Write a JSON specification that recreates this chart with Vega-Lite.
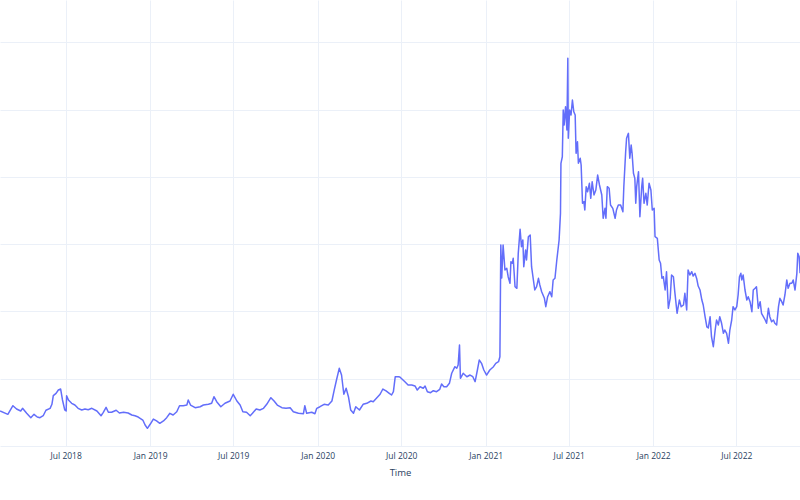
{
  "$schema": "https://vega.github.io/schema/vega-lite/v6.json",
  "width": 800,
  "height": 446,
  "autosize": {"type": "none"},
  "padding": {"left": 0, "top": 0, "right": 0, "bottom": 54},
  "background": "white",
  "view": {"stroke": null},
  "config": {"font": "Open Sans"},
  "data": {"values": [
    {"date":"2018-02-08","value":5.20},{"date":"2018-02-25","value":4.71},{"date":"2018-03-08","value":5.99},{"date":"2018-03-16","value":5.50},{"date":"2018-03-25","value":5.20},{"date":"2018-03-29","value":5.60},{"date":"2018-04-07","value":4.86},{"date":"2018-04-16","value":4.21},{"date":"2018-04-23","value":4.71},{"date":"2018-04-30","value":4.31},
    {"date":"2018-05-06","value":4.21},{"date":"2018-05-13","value":4.50},{"date":"2018-05-19","value":5.31},{"date":"2018-05-28","value":5.60},{"date":"2018-06-01","value":6.20},{"date":"2018-06-04","value":7.48},{"date":"2018-06-10","value":7.83},{"date":"2018-06-15","value":8.32},{"date":"2018-06-20","value":8.47},{"date":"2018-06-24","value":6.84},
    {"date":"2018-06-29","value":5.35},{"date":"2018-07-02","value":5.20},{"date":"2018-07-03","value":7.48},{"date":"2018-07-07","value":6.84},{"date":"2018-07-14","value":6.35},{"date":"2018-07-21","value":6.09},{"date":"2018-07-28","value":5.60},{"date":"2018-08-05","value":5.35},{"date":"2018-08-12","value":5.50},{"date":"2018-08-19","value":5.40},
    {"date":"2018-08-27","value":5.60},{"date":"2018-09-07","value":5.20},{"date":"2018-09-16","value":4.50},{"date":"2018-09-21","value":5.01},{"date":"2018-09-27","value":5.75},{"date":"2018-10-02","value":5.01},{"date":"2018-10-09","value":5.01},{"date":"2018-10-19","value":5.31},{"date":"2018-10-26","value":4.91},{"date":"2018-11-04","value":5.01},
    {"date":"2018-11-14","value":4.91},{"date":"2018-11-22","value":4.61},{"date":"2018-11-29","value":4.50},{"date":"2018-12-06","value":4.31},{"date":"2018-12-16","value":3.86},{"date":"2018-12-21","value":3.12},{"date":"2018-12-26","value":2.63},{"date":"2019-01-01","value":3.23},{"date":"2019-01-08","value":4.01},{"date":"2019-01-15","value":3.72},
    {"date":"2019-01-22","value":3.37},{"date":"2019-01-30","value":3.72},{"date":"2019-02-06","value":4.21},{"date":"2019-02-13","value":4.86},{"date":"2019-02-20","value":4.61},{"date":"2019-02-28","value":5.10},{"date":"2019-03-06","value":5.99},{"date":"2019-03-14","value":5.99},{"date":"2019-03-22","value":6.09},{"date":"2019-03-25","value":6.84},
    {"date":"2019-03-30","value":6.09},{"date":"2019-04-09","value":5.69},{"date":"2019-04-20","value":5.84},{"date":"2019-04-27","value":6.09},{"date":"2019-05-08","value":6.20},{"date":"2019-05-15","value":6.35},{"date":"2019-05-20","value":7.33},{"date":"2019-05-26","value":6.59},{"date":"2019-06-04","value":5.84},{"date":"2019-06-13","value":6.35},
    {"date":"2019-06-24","value":6.69},{"date":"2019-07-01","value":7.69},{"date":"2019-07-09","value":6.69},{"date":"2019-07-16","value":6.09},{"date":"2019-07-22","value":5.10},{"date":"2019-07-30","value":5.01},{"date":"2019-08-07","value":4.50},{"date":"2019-08-12","value":4.86},{"date":"2019-08-20","value":5.50},{"date":"2019-08-28","value":5.35},
    {"date":"2019-09-05","value":5.60},{"date":"2019-09-12","value":6.20},{"date":"2019-09-21","value":7.18},{"date":"2019-09-28","value":6.69},{"date":"2019-10-05","value":6.09},{"date":"2019-10-15","value":5.69},{"date":"2019-10-24","value":5.60},{"date":"2019-11-02","value":5.69},{"date":"2019-11-09","value":5.10},{"date":"2019-11-20","value":4.86},
    {"date":"2019-12-01","value":4.80},{"date":"2019-12-04","value":5.99},{"date":"2019-12-08","value":4.86},{"date":"2019-12-19","value":5.01},{"date":"2019-12-26","value":4.80},{"date":"2019-12-30","value":5.60},{"date":"2020-01-06","value":5.84},{"date":"2020-01-15","value":6.20},{"date":"2020-01-24","value":6.09},{"date":"2020-02-01","value":6.69},
    {"date":"2020-02-06","value":8.32},{"date":"2020-02-11","value":9.81},{"date":"2020-02-17","value":11.55},{"date":"2020-02-22","value":10.55},{"date":"2020-02-27","value":7.69},{"date":"2020-03-03","value":8.58},{"date":"2020-03-08","value":7.33},{"date":"2020-03-13","value":5.35},{"date":"2020-03-19","value":4.86},{"date":"2020-03-24","value":5.84},
    {"date":"2020-04-01","value":5.35},{"date":"2020-04-09","value":6.20},{"date":"2020-04-17","value":6.35},{"date":"2020-04-26","value":6.69},{"date":"2020-05-01","value":6.59},{"date":"2020-05-09","value":7.18},{"date":"2020-05-16","value":7.69},{"date":"2020-05-22","value":8.47},{"date":"2020-05-29","value":8.18},{"date":"2020-06-05","value":7.83},
    {"date":"2020-06-10","value":7.58},{"date":"2020-06-14","value":8.07},{"date":"2020-06-18","value":10.30},{"date":"2020-06-25","value":10.30},{"date":"2020-06-28","value":10.26},{"date":"2020-07-09","value":9.56},{"date":"2020-07-16","value":9.07},{"date":"2020-07-24","value":9.07},{"date":"2020-07-31","value":8.92},{"date":"2020-08-05","value":8.32},
    {"date":"2020-08-11","value":8.81},{"date":"2020-08-18","value":8.58},{"date":"2020-08-22","value":8.92},{"date":"2020-08-27","value":8.07},{"date":"2020-09-03","value":7.92},{"date":"2020-09-09","value":8.22},{"date":"2020-09-16","value":8.07},{"date":"2020-09-23","value":8.43},{"date":"2020-09-27","value":9.22},{"date":"2020-10-02","value":8.81},
    {"date":"2020-10-08","value":8.81},{"date":"2020-10-14","value":9.32},{"date":"2020-10-19","value":10.81},{"date":"2020-10-26","value":11.79},{"date":"2020-10-30","value":11.55},{"date":"2020-11-02","value":12.04},{"date":"2020-11-05","value":15.01},{"date":"2020-11-07","value":10.06},{"date":"2020-11-13","value":10.81},{"date":"2020-11-21","value":10.30},
    {"date":"2020-11-28","value":10.55},{"date":"2020-12-04","value":10.30},{"date":"2020-12-09","value":9.56},{"date":"2020-12-14","value":11.30},{"date":"2020-12-18","value":12.78},{"date":"2020-12-23","value":12.29},{"date":"2020-12-28","value":11.30},{"date":"2021-01-03","value":10.55},{"date":"2021-01-10","value":11.30},{"date":"2021-01-18","value":11.79},
    {"date":"2021-01-23","value":12.29},{"date":"2021-01-29","value":12.53},{"date":"2021-02-01","value":13.27},{"date":"2021-02-03","value":29.88},{"date":"2021-02-05","value":24.97},{"date":"2021-02-08","value":29.88},{"date":"2021-02-12","value":26.16},{"date":"2021-02-16","value":26.42},{"date":"2021-02-19","value":25.17},{"date":"2021-02-23","value":24.19},
    {"date":"2021-02-25","value":27.40},{"date":"2021-02-28","value":27.16},{"date":"2021-03-02","value":27.90},{"date":"2021-03-06","value":23.68},{"date":"2021-03-10","value":23.44},{"date":"2021-03-13","value":28.64},{"date":"2021-03-17","value":32.21},{"date":"2021-03-20","value":29.63},{"date":"2021-03-23","value":30.62},{"date":"2021-03-25","value":26.65},
    {"date":"2021-03-29","value":29.14},{"date":"2021-03-31","value":27.65},{"date":"2021-04-04","value":31.11},{"date":"2021-04-08","value":31.37},{"date":"2021-04-11","value":26.65},{"date":"2021-04-15","value":24.68},{"date":"2021-04-18","value":23.19},{"date":"2021-04-22","value":23.68},{"date":"2021-04-26","value":24.93},{"date":"2021-04-29","value":23.93},
    {"date":"2021-05-03","value":22.94},{"date":"2021-05-09","value":21.96},{"date":"2021-05-12","value":20.71},{"date":"2021-05-16","value":22.19},{"date":"2021-05-21","value":22.94},{"date":"2021-05-25","value":22.19},{"date":"2021-05-28","value":24.68},{"date":"2021-06-01","value":24.93},{"date":"2021-06-05","value":27.65},{"date":"2021-06-10","value":30.62},
    {"date":"2021-06-13","value":34.59},{"date":"2021-06-14","value":42.02},{"date":"2021-06-17","value":43.00},{"date":"2021-06-19","value":49.95},{"date":"2021-06-21","value":47.72},{"date":"2021-06-24","value":50.44},{"date":"2021-06-27","value":46.97},{"date":"2021-06-29","value":57.63},{"date":"2021-06-30","value":45.74},{"date":"2021-07-03","value":49.95},
    {"date":"2021-07-06","value":49.20},{"date":"2021-07-09","value":51.43},{"date":"2021-07-12","value":49.69},{"date":"2021-07-15","value":49.20},{"date":"2021-07-17","value":43.51},{"date":"2021-07-20","value":45.23},{"date":"2021-07-22","value":42.02},{"date":"2021-07-26","value":42.77},{"date":"2021-07-28","value":41.77},{"date":"2021-07-31","value":36.08},
    {"date":"2021-08-03","value":36.32},{"date":"2021-08-05","value":35.08},{"date":"2021-08-08","value":38.55},{"date":"2021-08-11","value":37.80},{"date":"2021-08-15","value":39.05},{"date":"2021-08-18","value":36.82},{"date":"2021-08-21","value":39.29},{"date":"2021-08-25","value":37.31},{"date":"2021-08-29","value":38.05},{"date":"2021-09-02","value":40.28},
    {"date":"2021-09-06","value":38.80},{"date":"2021-09-11","value":37.31},{"date":"2021-09-14","value":33.85},{"date":"2021-09-18","value":35.33},{"date":"2021-09-20","value":33.85},{"date":"2021-09-23","value":38.55},{"date":"2021-09-27","value":38.31},{"date":"2021-09-30","value":35.82},{"date":"2021-10-05","value":35.33},{"date":"2021-10-10","value":33.85},
    {"date":"2021-10-13","value":35.08},{"date":"2021-10-17","value":35.82},{"date":"2021-10-22","value":35.82},{"date":"2021-10-27","value":34.83},{"date":"2021-10-29","value":38.55},{"date":"2021-11-02","value":43.75},{"date":"2021-11-04","value":45.74},{"date":"2021-11-08","value":46.48},{"date":"2021-11-11","value":42.77},{"date":"2021-11-14","value":44.74},
    {"date":"2021-11-16","value":43.51},{"date":"2021-11-19","value":40.54},{"date":"2021-11-22","value":39.79},{"date":"2021-11-24","value":36.08},{"date":"2021-11-26","value":38.55},{"date":"2021-11-30","value":40.78},{"date":"2021-12-03","value":34.09},{"date":"2021-12-07","value":38.55},{"date":"2021-12-09","value":39.79},{"date":"2021-12-12","value":36.08},
    {"date":"2021-12-16","value":37.56},{"date":"2021-12-19","value":35.82},{"date":"2021-12-23","value":39.05},{"date":"2021-12-27","value":38.05},{"date":"2021-12-30","value":35.08},{"date":"2022-01-03","value":35.33},{"date":"2022-01-05","value":31.11},{"date":"2022-01-10","value":30.87},{"date":"2022-01-14","value":27.65},{"date":"2022-01-17","value":27.16},
    {"date":"2022-01-20","value":24.93},{"date":"2022-01-23","value":25.17},{"date":"2022-01-27","value":23.19},{"date":"2022-01-30","value":25.91},{"date":"2022-02-03","value":20.47},{"date":"2022-02-07","value":21.96},{"date":"2022-02-10","value":25.42},{"date":"2022-02-14","value":25.17},{"date":"2022-02-17","value":22.94},{"date":"2022-02-22","value":19.73},
    {"date":"2022-02-27","value":21.70},{"date":"2022-03-03","value":20.71},{"date":"2022-03-08","value":20.96},{"date":"2022-03-11","value":22.70},{"date":"2022-03-15","value":20.22},{"date":"2022-03-18","value":26.16},{"date":"2022-03-22","value":25.42},{"date":"2022-03-26","value":25.91},{"date":"2022-03-29","value":25.27},{"date":"2022-04-02","value":25.67},
    {"date":"2022-04-06","value":24.82},{"date":"2022-04-09","value":23.78},{"date":"2022-04-13","value":23.19},{"date":"2022-04-17","value":21.70},{"date":"2022-04-20","value":20.96},{"date":"2022-04-24","value":19.22},{"date":"2022-04-28","value":17.69},{"date":"2022-05-01","value":17.54},{"date":"2022-05-05","value":19.22},{"date":"2022-05-08","value":16.25},
    {"date":"2022-05-12","value":14.76},{"date":"2022-05-16","value":17.24},{"date":"2022-05-19","value":18.73},{"date":"2022-05-23","value":17.99},{"date":"2022-05-26","value":19.22},{"date":"2022-05-30","value":18.24},{"date":"2022-06-03","value":16.75},{"date":"2022-06-06","value":17.24},{"date":"2022-06-10","value":16.75},{"date":"2022-06-14","value":15.27},
    {"date":"2022-06-17","value":17.24},{"date":"2022-06-21","value":18.73},{"date":"2022-06-24","value":20.71},{"date":"2022-06-28","value":20.22},{"date":"2022-07-02","value":20.71},{"date":"2022-07-05","value":22.45},{"date":"2022-07-08","value":25.17},{"date":"2022-07-11","value":25.67},{"date":"2022-07-13","value":24.68},{"date":"2022-07-16","value":25.42},
    {"date":"2022-07-20","value":23.19},{"date":"2022-07-24","value":21.70},{"date":"2022-07-27","value":22.19},{"date":"2022-07-31","value":21.45},{"date":"2022-08-04","value":19.96},{"date":"2022-08-07","value":23.19},{"date":"2022-08-11","value":23.44},{"date":"2022-08-14","value":23.68},{"date":"2022-08-18","value":20.47},{"date":"2022-08-22","value":21.45},
    {"date":"2022-08-25","value":19.73},{"date":"2022-08-29","value":19.22},{"date":"2022-09-02","value":18.73},{"date":"2022-09-05","value":18.24},{"date":"2022-09-09","value":20.47},{"date":"2022-09-12","value":19.22},{"date":"2022-09-16","value":18.48},{"date":"2022-09-20","value":18.73},{"date":"2022-09-23","value":18.24},{"date":"2022-09-27","value":17.99},
    {"date":"2022-10-01","value":20.71},{"date":"2022-10-04","value":21.96},{"date":"2022-10-08","value":21.45},{"date":"2022-10-11","value":20.96},{"date":"2022-10-15","value":22.45},{"date":"2022-10-19","value":24.68},{"date":"2022-10-22","value":23.44},{"date":"2022-10-26","value":24.19},{"date":"2022-10-30","value":24.19},{"date":"2022-11-02","value":24.68},
    {"date":"2022-11-06","value":23.19},{"date":"2022-11-10","value":25.67},{"date":"2022-11-12","value":28.64},{"date":"2022-11-15","value":28.14},{"date":"2022-11-17","value":25.67}
  ]},
  "mark": {"type": "line", "color": "#636efa", "strokeWidth": 1.5, "strokeJoin": "round", "clip": true},
  "encoding": {
    "x": {
      "field": "date",
      "type": "temporal",
      "title": "Time",
      "scale": {
        "type": "utc",
        "domain": [
          {"year": 2018, "month": 2, "date": 7, "hours": 21, "utc": true},
          {"year": 2022, "month": 11, "date": 16, "hours": 20, "utc": true}
        ]
      },
      "axis": {
        "values": [
          {"year": 2018, "month": 7, "date": 1, "utc": true},
          {"year": 2019, "month": 1, "date": 1, "utc": true},
          {"year": 2019, "month": 7, "date": 1, "utc": true},
          {"year": 2020, "month": 1, "date": 1, "utc": true},
          {"year": 2020, "month": 7, "date": 1, "utc": true},
          {"year": 2021, "month": 1, "date": 1, "utc": true},
          {"year": 2021, "month": 7, "date": 1, "utc": true},
          {"year": 2022, "month": 1, "date": 1, "utc": true},
          {"year": 2022, "month": 7, "date": 1, "utc": true}
        ],
        "format": "%b %Y",
        "ticks": false,
        "tickSize": 0,
        "domain": false,
        "grid": true,
        "gridColor": "#EBF0F8",
        "gridWidth": 1,
        "labelFont": "Open Sans",
        "labelFontSize": 8.5,
        "labelColor": "#2a3f5f",
        "labelPadding": 5,
        "labelFlush": false,
        "labelOverlap": false,
        "titleFont": "Open Sans",
        "titleFontSize": 9.5,
        "titleFontWeight": "normal",
        "titleColor": "#2a3f5f",
        "titlePadding": 8
      }
    },
    "y": {
      "field": "value",
      "type": "quantitative",
      "scale": {"domain": [0, 66.3], "nice": false, "zero": false},
      "axis": {
        "values": [0, 10, 20, 30, 40, 50, 60],
        "labels": false,
        "ticks": false,
        "domain": false,
        "title": null,
        "grid": true,
        "gridColor": "#EBF0F8",
        "gridWidth": 1
      }
    }
  }
}
